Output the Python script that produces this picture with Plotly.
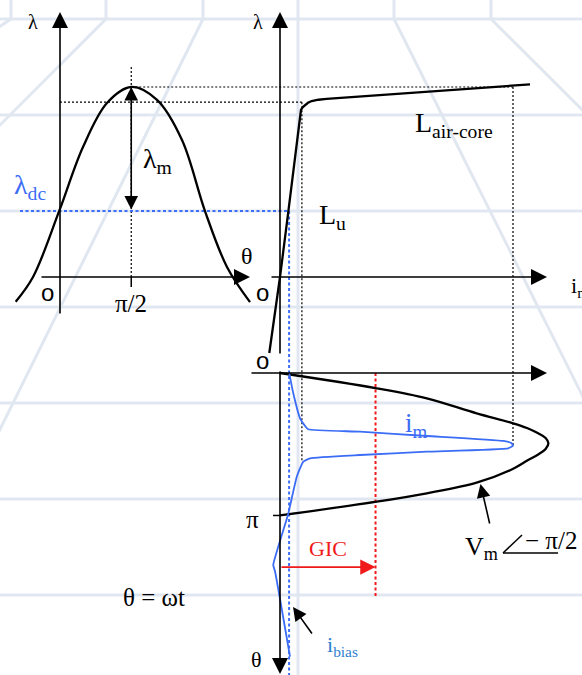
import math
import plotly.graph_objects as go

# ---------------- data ----------------
# Panel A : flux linkage lambda (normalised to its peak) versus angle theta [rad]
theta_a = [-0.977, -0.595, -0.015, 0.507, 1.036, 1.571, 2.139, 2.690, 3.197, 3.682, 4.190]
lambda_a = [-0.130, 0.000, 0.349, 0.684, 0.916, 1.000, 0.932, 0.721, 0.347, 0.053, -0.132]

# Panel B : lambda - i_m magnetising characteristic (i normalised to peak magnetising current)
i_curve = [-0.046, 0.000, 0.036, 0.090, 0.098, 0.107, 0.120, 0.136, 0.165, 0.200, 1.073]
lambda_curve = [-0.400, 0.000, 0.347, 0.879, 0.894, 0.905, 0.917, 0.926, 0.933, 0.937, 1.014]

# Panel C : voltage loop and magnetising current versus theta (theta runs downwards)
theta_v = [0.000, 0.337, 0.558, 0.889, 1.109, 1.213, 1.330, 1.433, 1.550, 1.676, 1.790, 1.918,
           2.139, 2.419, 2.653, 2.838, 3.1416]
i_v = [0.000, 0.415, 0.630, 0.844, 1.001, 1.060, 1.108, 1.140, 1.152, 1.140, 1.110, 1.065,
       0.990, 0.844, 0.630, 0.415, 0.000]

theta_im = [0.007, 0.448, 0.999, 1.150, 1.241, 1.294, 1.389, 1.499, 1.550, 1.603, 1.660, 1.735,
            1.808, 1.881, 1.956, 2.287, 3.131, 4.234, 4.381, 6.256]
i_im = [0.040, 0.057, 0.086, 0.105, 0.121, 0.343, 0.630, 0.959, 0.994, 1.000, 0.980, 0.630,
        0.343, 0.129, 0.100, 0.072, 0.034, -0.029, -0.021, 0.043]

# characteristic levels
LAMBDA_PEAK = 1.000
LAMBDA_KNEE = 0.920
LAMBDA_DC = 0.347
I_PEAK = 1.000
I_KNEE = 0.094
I_BIAS = 0.039
I_GIC = 0.410
THETA_IM_TIP = 1.600
THETA_IM_KNEE_LOW = 1.960
THETA_GIC_ARROW = 4.28
THETA_GIC_END = 4.94

# ---------------- layout geometry (pixels) ----------------
W, H = 582, 675
OX_A, OX_B = 60.0, 280.0       # pixel x of theta=0 (panel A) and i=0 (panels B, C)
OY_AB, OY_C = 277.0, 373.0     # pixel y of lambda=0 and of theta=0 (panel C)
K_TH, K_LAM, K_I = 45.35, 190.0, 233.0

def thA(px):  return (px - OX_A) / K_TH
def ii(px):   return (px - OX_B) / K_I
def lam(py):  return (OY_AB - py) / K_LAM
def thC(py):  return (py - OY_C) / K_TH
def px_i(i):  return OX_B + K_I * i
def py_thC(t): return OY_C + K_TH * t
def PX(px):   return px / W
def PY(py):   return 1 - py / H

SERIF = "Liberation Serif"
SANS = "Liberation Sans"
BLACK = "#000000"
BLUE = "#3b6cf5"
BLUE_DOT = "#3d6ef7"
BLUE_LBL = "#2f7fcf"
RED = "#f01a1a"
GRID = "#e1e7f0"

fig = go.Figure()

def line(x, y, xa="x", ya="y", color=BLACK, width=2.0, dash="solid", shape="linear", smooth=1.0):
    fig.add_trace(go.Scatter(x=x, y=y, xaxis=xa, yaxis=ya, mode="lines",
                             line=dict(color=color, width=width, dash=dash, shape=shape,
                                       smoothing=smooth),
                             hoverinfo="skip", showlegend=False, cliponaxis=False))

# ---- dotted construction lines ----
DOT = "2px,2px"
line([math.pi / 2, math.pi / 2], [lam(67), 0], color=BLACK, width=1.2, dash=DOT)
line([math.pi / 2, thA(px_i(I_PEAK))], [LAMBDA_PEAK, LAMBDA_PEAK], width=1.2, dash=DOT)
line([0, thA(px_i(I_KNEE))], [LAMBDA_KNEE, LAMBDA_KNEE], width=1.2, dash=DOT)
line([I_KNEE, I_KNEE], [LAMBDA_KNEE, lam(py_thC(THETA_IM_KNEE_LOW))], xa="x2", width=1.2, dash=DOT)
line([I_PEAK, I_PEAK], [LAMBDA_PEAK, lam(py_thC(THETA_IM_TIP))], xa="x2", width=1.2, dash=DOT)

# blue lambda_dc and i_bias guides
line([thA(20), thA(px_i(I_BIAS))], [LAMBDA_DC, LAMBDA_DC], color=BLUE_DOT, width=2, dash="3px,2.5px")
line([I_BIAS, I_BIAS], [LAMBDA_DC, lam(H)], xa="x2", color=BLUE_DOT, width=2, dash="3px,2.5px")

# red GIC level
line([I_GIC, I_GIC], [0, THETA_GIC_END], xa="x2", ya="y2", color=RED, width=2, dash="3px,2.5px")

# ---- curves ----
line(theta_a, lambda_a, width=2.3, shape="spline", smooth=1.0)
line(i_curve, lambda_curve, xa="x2", width=2.3)
line(i_v, theta_v, xa="x2", ya="y2", width=2.3, shape="spline", smooth=1.0)
line(i_im, theta_im, xa="x2", ya="y2", color=BLUE, width=1.8, shape="spline", smooth=0.4)

# ticks
line([math.pi / 2, math.pi / 2], [0, lam(287)], width=1.5)
line([ii(273), 0], [math.pi, math.pi], xa="x2", ya="y2", width=1.5)

# ---- arrows (axes and pointers) ----
anns = []
def arrow(x, y, ax, ay, xr="x", yr="y", color=BLACK, width=1.6, size=2.0, side="end"):
    anns.append(dict(x=x, y=y, ax=ax, ay=ay, xref=xr, yref=yr, axref=xr, ayref=yr,
                     text="", showarrow=True, arrowhead=2, arrowsize=size, arrowwidth=width,
                     arrowcolor=color, arrowside=side, standoff=0, startstandoff=0))

arrow(0, lam(12), 0, lam(315))                       # panel A lambda axis
arrow(thA(250), 0, thA(40), 0)                        # panel A theta axis
arrow(0, lam(12), 0, lam(355), xr="x2")               # panel B lambda axis
arrow(ii(547), 0, ii(270), 0, xr="x2")                # panel B i axis
arrow(ii(547), 0, ii(250), 0, xr="x2", yr="y2")       # panel C i axis
arrow(0, thC(674), 0, thC(370), xr="x2", yr="y2")     # panel C theta axis
arrow(math.pi / 2, LAMBDA_PEAK, math.pi / 2, LAMBDA_DC, width=1.6, size=1.7, side="end+start")
arrow(I_GIC, THETA_GIC_ARROW, 0, THETA_GIC_ARROW, xr="x2", yr="y2", color=RED, width=1.8, size=1.7)
arrow(ii(480.5), thC(484), ii(490), thC(525), xr="x2", yr="y2", width=1.6, size=1.7)
arrow(ii(293), thC(607), ii(313), thC(635), xr="x2", yr="y2", width=1.6, size=1.7)

# ---- text ----
def txt(px, py, s, size=22, color=BLACK, fam=SERIF, xanchor="center"):
    anns.append(dict(x=PX(px), y=PY(py), xref="paper", yref="paper", text=s, showarrow=False,
                     xanchor=xanchor, yanchor="middle",
                     font=dict(family=fam, size=size, color=color)))

txt(33, 22, "λ", 20)
txt(258, 22, "λ", 20)
txt(247, 256, "θ", 24)
txt(47, 292, "o", 24, fam=SANS)
txt(262, 292, "o", 24, fam=SANS)
txt(262, 360, "o", 24, fam=SANS)
txt(131, 303, "π/2", 25)
txt(141, 160, "λ<sub>m</sub>", 28, xanchor="left")
txt(12, 187, "λ<sub>dc</sub>", 28, color=BLUE, xanchor="left")
txt(413, 124, "L<sub>air-core</sub>", 28, xanchor="left")
txt(317, 216, "L<sub>u</sub>", 28, xanchor="left")
txt(569, 287, "i<sub>m</sub>", 22, xanchor="left")
txt(403, 425, "i<sub>m</sub>", 27, color=BLUE, xanchor="left")
txt(328, 548, "GIC", 22, color=RED)
txt(463, 548, "V<sub>m</sub>", 26, xanchor="left")
txt(523, 540, "− π/2", 25, xanchor="left")
txt(252, 519, "π", 25)
txt(256, 659, "θ", 22)
txt(154, 597, "θ = ωt", 25)
txt(325, 646, "i<sub>bias</sub>", 22, color=BLUE_LBL, xanchor="left")

# ---- shapes: background perspective grid and angle sign ----
shapes = []
def seg(x0, y0, x1, y1, color=GRID, width=3, layer="below"):
    shapes.append(dict(type="line", xref="paper", yref="paper", x0=PX(x0), y0=PY(y0),
                       x1=PX(x1), y1=PY(y1), line=dict(color=color, width=width), layer=layer))

for gy in [19, 115, 211, 307, 403, 499, 595]:
    seg(0, gy, W, gy)
seg(298, 0, 298, H)
for gx in [11, 106, 203, 394, 491]:
    seg(gx, 0, gx, 19)
    s = (gx - 298) / 192.0
    seg(gx, 19, gx + s * (H - 19), H)

# angle sign of V_m
seg(503, 553, 558, 553, color=BLACK, width=1.5, layer="above")
seg(503, 553, 522, 535, color=BLACK, width=1.5, layer="above")

ax_common = dict(visible=False, fixedrange=True, showgrid=False, zeroline=False)
fig.update_layout(
    width=W, height=H, autosize=False,
    margin=dict(l=0, r=0, t=0, b=0, pad=0),
    paper_bgcolor="white", plot_bgcolor="rgba(0,0,0,0)",
    showlegend=False,
    xaxis=dict(range=[thA(0), thA(W)], domain=[0, 1], **ax_common),
    xaxis2=dict(range=[ii(0), ii(W)], domain=[0, 1], overlaying="x", anchor="y", **ax_common),
    yaxis=dict(range=[lam(H), lam(0)], domain=[0, 1], **ax_common),
    yaxis2=dict(range=[thC(H), thC(0)], domain=[0, 1], overlaying="y", anchor="x", **ax_common),
    annotations=anns,
    shapes=shapes,
)

fig.write_html("out.html", config={"displayModeBar": False, "staticPlot": True},
               post_script="document.body.style.margin='0';document.body.style.overflow='hidden';")
